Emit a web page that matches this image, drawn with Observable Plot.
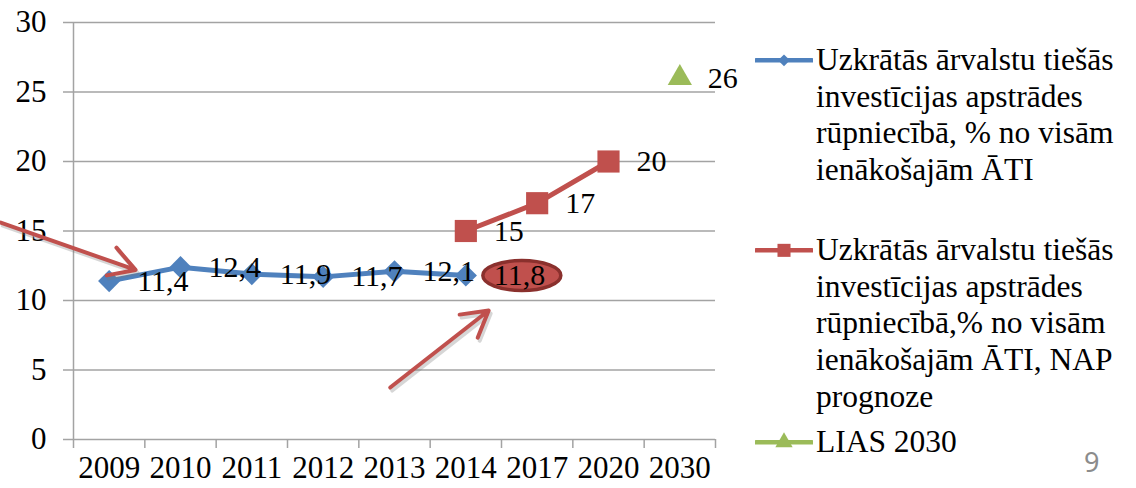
<!DOCTYPE html>
<html><head><meta charset="utf-8">
<script src="https://cdn.jsdelivr.net/npm/d3@7"></script>
<script src="https://cdn.jsdelivr.net/npm/@observablehq/plot@0.6"></script>
<style>
body{margin:0;background:#fff}
#wrap{position:relative;width:1136px;height:488px;font-family:"Liberation Serif","Times New Roman",Times,serif;overflow:hidden}
#wrap svg.plot{position:absolute;left:0;top:0}
#wrap svg.plot text{font-family:"Liberation Serif","Times New Roman",Times,serif}
.item{position:absolute;left:755px;display:flex;align-items:flex-start}
.item svg{flex:none;display:block}
.txt{font-size:31.5px;line-height:36.7px;color:#000;white-space:nowrap;margin-left:3px}
.pagenum{position:absolute;left:1084px;top:443px;font-family:"Noto Sans",sans-serif;font-size:27px;color:#8c8c8c}
</style></head><body>
<div id="wrap"></div>
<script>
// ---- data ----
const categories = ["2009","2010","2011","2012","2013","2014","2017","2020","2030"];
const actualYears = ["2009","2010","2011","2012","2013","2014"];
const actualValues = [11.4, 12.4, 11.9, 11.7, 12.1, 11.8];
const forecastYears = ["2014","2017","2020"];
const forecastValues = [15, 17, 20];
const targetYears = ["2030"];
const targetValues = [26];
const yTicks = [0, 5, 10, 15, 20, 25, 30];
const seriesNames = [
  "Uzkrātās ārvalstu tiešās investīcijas apstrādes rūpniecībā, % no visām ienākošajām ĀTI",
  "Uzkrātās ārvalstu tiešās investīcijas apstrādes rūpniecībā,% no visām ienākošajām ĀTI, NAP prognoze",
  "LIAS 2030"
];
const legendLines = [
  ["Uzkrātās ārvalstu tiešās", "investīcijas apstrādes", "rūpniecībā, % no visām", "ienākošajām ĀTI"],
  ["Uzkrātās ārvalstu tiešās", "investīcijas apstrādes", "rūpniecībā,% no visām", "ienākošajām ĀTI, NAP", "prognoze"],
  ["LIAS 2030"]
];
const highlightYear = "2014";
// annotation arrows, in (category index, value) space
const arrowStartX = [-1.52, 3.94];
const arrowStartY = [15.6, 3.74];
const arrowEndX = [0.37, 5.32];
const arrowEndY = [12.2, 9.28];
const pageNumber = "9";

// ---- build ----
const SERIF = '"Liberation Serif","Times New Roman",Times,serif';
const idx = c => categories.indexOf(c);
const fmt = v => String(v).replace(".", ",");
const actual = actualYears.map((c, i) => ({x: idx(c), y: actualValues[i]}));
const forecast = forecastYears.map((c, i) => ({x: idx(c), y: forecastValues[i]}));
const target = targetYears.map((c, i) => ({x: idx(c), y: targetValues[i]}));
const highlight = actual.filter((d, i) => actualYears[i] === highlightYear);
const arrows = arrowStartX.map((_, i) => ({x1: arrowStartX[i], y1: arrowStartY[i], x2: arrowEndX[i], y2: arrowEndY[i]}));
const boundaries = d3.range(categories.length + 1).map(i => i - 0.5);

const BLUE = "#4F81BD", RED = "#C0504D", GREEN = "#9BBB59", GRID = "#A3A3A3";

const ellipse = {draw(ctx) {
  const rx = 39, ry = 15, k = 0.5523;
  ctx.moveTo(rx, 0);
  ctx.bezierCurveTo(rx, ry * k, rx * k, ry, 0, ry);
  ctx.bezierCurveTo(-rx * k, ry, -rx, ry * k, -rx, 0);
  ctx.bezierCurveTo(-rx, -ry * k, -rx * k, -ry, 0, -ry);
  ctx.bezierCurveTo(rx * k, -ry, rx, -ry * k, rx, 0);
  ctx.closePath();
}};

const labelStyle = {fontSize: 30, fontFamily: SERIF, textAnchor: "start", dx: 28, fill: "#000"};

const chart = Plot.plot({
  width: 1136, height: 488,
  marginLeft: 73, marginRight: 421, marginTop: 22, marginBottom: 49,
  style: {fontFamily: SERIF, background: "transparent", overflow: "visible"},
  x: {type: "linear", domain: [-0.5, categories.length - 0.5]},
  y: {domain: [0, 30]},
  marks: [
    Plot.ruleY(yTicks, {y: d => d, stroke: GRID, strokeWidth: 1.5}),
    Plot.axisY({ticks: yTicks, tickSize: 10, tickPadding: 17, fontSize: 31, stroke: GRID, strokeWidth: 1.5, strokeOpacity: 1, label: null, color: "#000"}),
    Plot.axisX({ticks: boundaries, tickSize: 9, tickFormat: () => "", stroke: GRID, strokeWidth: 1.5, strokeOpacity: 1, label: null}),
    Plot.axisX({ticks: d3.range(categories.length), tickSize: 0, tickPadding: 16, tickFormat: i => categories[i], fontSize: 31, label: null, color: "#000"}),
    Plot.ruleX([-0.5], {stroke: GRID, strokeWidth: 1.5}),
    Plot.line(actual, {x: "x", y: "y", stroke: BLUE, strokeWidth: 5}),
    Plot.dot(actual, {x: "x", y: "y", symbol: "diamond2", r: 10, fill: BLUE}),
    Plot.line(forecast, {x: "x", y: "y", stroke: RED, strokeWidth: 5}),
    Plot.dot(forecast, {x: "x", y: "y", symbol: "square", r: 12.5, fill: RED}),
    Plot.dot(target, {x: "x", y: "y", symbol: "triangle", r: 9, fill: GREEN}),
    Plot.dot(highlight, {x: "x", y: "y", dx: 56, symbol: ellipse, fill: RED, stroke: "#8A302D", strokeWidth: 3.5}),
    Plot.text(actual, {x: "x", y: "y", text: d => fmt(d.y), ...labelStyle}),
    Plot.text(forecast, {x: "x", y: "y", text: d => fmt(d.y), ...labelStyle}),
    Plot.text(target, {x: "x", y: "y", text: d => fmt(d.y), ...labelStyle}),
    Plot.arrow(arrows, {x1: "x1", y1: "y1", x2: "x2", y2: "y2", stroke: "#777", strokeOpacity: 0.3, strokeWidth: 4, headLength: 11, dx: 2, dy: 3}),
    Plot.arrow(arrows, {x1: "x1", y1: "y1", x2: "x2", y2: "y2", stroke: RED, strokeWidth: 4, headLength: 11})
  ]
});
chart.classList.add("plot");
const wrap = document.getElementById("wrap");
wrap.appendChild(chart);

// ---- legend ----
const legendTops = [42, 232, 424];
const swatch = (color, kind) => {
  const s = d3.create("svg").attr("width", 58).attr("height", 36.7);
  s.append("line").attr("x1", 1).attr("x2", 57).attr("y1", 18.35).attr("y2", 18.35)
    .attr("stroke", color).attr("stroke-width", 4.5).attr("stroke-linecap", "round");
  const sym = kind === "diamond" ? d3.symbolDiamond2 : kind === "square" ? d3.symbolSquare : d3.symbolTriangle;
  const size = kind === "diamond" ? 90 : kind === "square" ? 170 : 130;
  s.append("path").attr("d", d3.symbol(sym, size)()).attr("transform", "translate(29,18.35)").attr("fill", color);
  return s.node();
};
const kinds = [["#4F81BD", "diamond"], ["#C0504D", "square"], ["#9BBB59", "triangle"]];
seriesNames.forEach((name, i) => {
  const item = document.createElement("div");
  item.className = "item";
  item.style.top = legendTops[i] + "px";
  item.title = name;
  item.appendChild(swatch(kinds[i][0], kinds[i][1]));
  const t = document.createElement("div");
  t.className = "txt";
  t.innerHTML = legendLines[i].join("<br>");
  item.appendChild(t);
  wrap.appendChild(item);
});
const pn = document.createElement("div");
pn.className = "pagenum";
pn.textContent = pageNumber;
wrap.appendChild(pn);
</script>
</body></html>
